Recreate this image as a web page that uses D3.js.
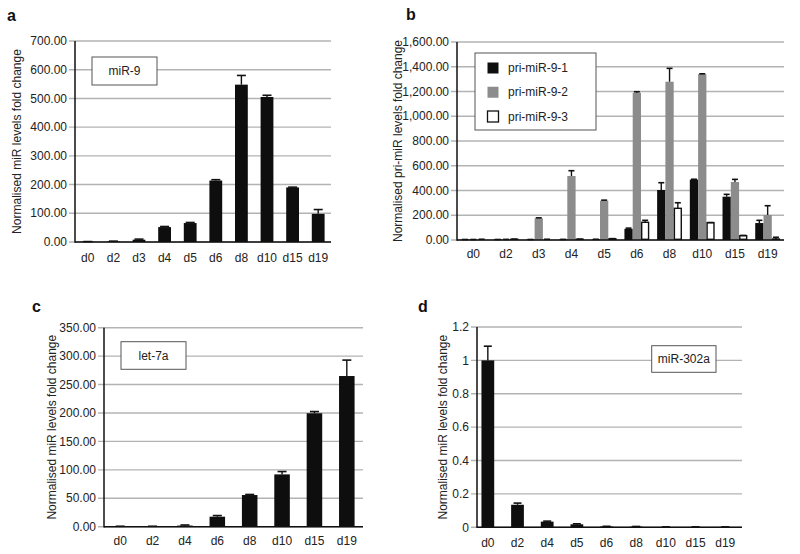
<!DOCTYPE html>
<html>
<head>
<meta charset="utf-8">
<script src="https://cdn.jsdelivr.net/npm/d3@7"></script>
<style>
  html, body { margin: 0; padding: 0; background: #fff; }
  svg { display: block; font-family: "Liberation Sans", Arial, sans-serif; }
</style>
</head>
<body>
<svg id="chart" width="800" height="554"></svg>
<script>
// ---------------- DATA ----------------
const daysA = ["d0", "d2", "d3", "d4", "d5", "d6", "d8", "d10", "d15", "d19"];
const mir9 = [1, 2, 8, 52, 66, 214, 548, 505, 190, 98];
const mir9Err = [0.5, 1, 2, 2, 2, 3, 32, 6, 1, 15];
const ticksA = [0, 100, 200, 300, 400, 500, 600, 700];

const daysB = ["d0", "d2", "d3", "d4", "d5", "d6", "d8", "d10", "d15", "d19"];
const seriesB = ["pri-miR-9-1", "pri-miR-9-2", "pri-miR-9-3"];
const pri1 = [3, 3, 3, 4, 5, 90, 404, 488, 350, 137];
const pri1Err = [1, 1, 1, 1, 1, 6, 59, 3, 19, 22];
const pri2 = [3, 4, 175, 517, 318, 1190, 1279, 1340, 469, 202];
const pri2Err = [1, 1, 4, 43, 4, 8, 108, 3, 21, 75];
const pri3 = [5, 6, 5, 6, 10, 143, 256, 140, 35, 8];
const pri3Err = [1, 1, 1, 1, 1, 16, 45, 1, 2, 14];
const ticksB = [0, 200, 400, 600, 800, 1000, 1200, 1400, 1600];

const daysC = ["d0", "d2", "d4", "d6", "d8", "d10", "d15", "d19"];
const let7a = [0.5, 0.5, 2, 17.6, 55.7, 92, 199.5, 265];
const let7aErr = [0.3, 0.3, 1, 2, 1, 5, 3, 28];
const ticksC = [0, 50, 100, 150, 200, 250, 300, 350];

const daysD = ["d0", "d2", "d4", "d5", "d6", "d8", "d10", "d15", "d19"];
const mir302a = [1.0, 0.135, 0.034, 0.018, 0.005, 0.004, 0.002, 0.002, 0.002];
const mir302aErr = [0.085, 0.01, 0.003, 0.003, 0.001, 0.001, 0.0005, 0.0005, 0.0005];
const ticksD = [0, 0.2, 0.4, 0.6, 0.8, 1, 1.2];
const tickLabelsD = ["0", "0.2", "0.4", "0.6", "0.8", "1", "1.2"];

// ---------------- STYLE ----------------
const BLACK = "#0e0e0e";
const GRAY = "#8c8c8c";
const GRID = "#b3b3b3";
const fmt2 = d3.format(",.2f");

const svg = d3.select("#chart");

function panel(opts) {
  const g = svg.append("g");
  const x = d3.scaleBand().domain(opts.cats)
    .range([opts.left, opts.right])
    .paddingInner(opts.padIn).paddingOuter(opts.padOut).align(opts.align ?? 0.5);
  const y = d3.scaleLinear().domain([0, opts.max]).range([opts.bottom, opts.top]);

  // gridlines + ticks
  g.append("g").selectAll("line").data(opts.ticks).join("line")
    .attr("x1", opts.left - 6).attr("x2", opts.right)
    .attr("y1", d => y(d)).attr("y2", d => y(d))
    .attr("stroke", GRID).attr("stroke-width", 1.4);

  // y tick labels
  g.append("g").selectAll("text").data(opts.ticks).join("text")
    .attr("x", opts.left - 8).attr("y", d => y(d))
    .attr("dy", "0.35em").attr("text-anchor", "end")
    .attr("font-size", 12).attr("fill", "#222")
    .text((d, i) => opts.tickFmt(d, i));

  // annotation box / legend (drawn under bars)
  if (opts.box) {
    const b = opts.box;
    g.append("rect").attr("x", b.x).attr("y", b.y).attr("width", b.w).attr("height", b.h)
      .attr("fill", "#fff").attr("stroke", "#555").attr("stroke-width", 1);
    if (b.text) {
      g.append("text").attr("x", b.x + b.w / 2).attr("y", b.y + b.h / 2)
        .attr("dy", "0.35em").attr("text-anchor", "middle")
        .attr("font-size", 12).attr("fill", "#222").text(b.text);
    }
  }

  opts.draw(g, x, y);

  // axes lines
  g.append("line").attr("x1", opts.left).attr("x2", opts.left)
    .attr("y1", opts.top).attr("y2", opts.bottom + 0.7)
    .attr("stroke", "#111").attr("stroke-width", 1.5);
  g.append("line").attr("x1", opts.left).attr("x2", opts.right)
    .attr("y1", opts.bottom).attr("y2", opts.bottom)
    .attr("stroke", "#111").attr("stroke-width", 1.5);

  // x labels
  g.append("g").selectAll("text").data(opts.cats).join("text")
    .attr("x", d => x(d) + x.bandwidth() / 2).attr("y", opts.bottom + opts.xLabelOff)
    .attr("text-anchor", "middle").attr("font-size", 12).attr("fill", "#222")
    .text(d => d);

  // y title
  const cy = (opts.top + opts.bottom) / 2;
  g.append("text")
    .attr("transform", `translate(${opts.titleX},${cy}) rotate(-90)`)
    .attr("text-anchor", "middle").attr("dominant-baseline", "central")
    .attr("font-size", 12).attr("fill", "#222").text(opts.title);

  // panel letter
  g.append("text").attr("x", opts.letterX).attr("y", opts.letterY)
    .attr("font-size", 16).attr("font-weight", "bold").attr("fill", "#111")
    .text(opts.letter);
}

function errorBars(g, xs, ys, vals, errs, capW) {
  const data = vals.map((v, i) => ({ v, e: errs[i], i }));
  g.append("g").selectAll("line").data(data).join("line")
    .attr("x1", d => xs(d.i)).attr("x2", d => xs(d.i))
    .attr("y1", d => ys(d.v)).attr("y2", d => ys(d.v + d.e))
    .attr("stroke", "#111").attr("stroke-width", 1.4);
  g.append("g").selectAll("line").data(data).join("line")
    .attr("x1", d => xs(d.i) - capW / 2).attr("x2", d => xs(d.i) + capW / 2)
    .attr("y1", d => ys(d.v + d.e)).attr("y2", d => ys(d.v + d.e))
    .attr("stroke", "#111").attr("stroke-width", 1.6);
}

function simpleBars(cats, vals, errs, capW) {
  return (g, x, y) => {
    const bw = x.bandwidth();
    g.append("g").selectAll("rect").data(vals).join("rect")
      .attr("x", (d, i) => x(cats[i])).attr("width", bw)
      .attr("y", d => y(d)).attr("height", d => y(0) - y(d))
      .attr("fill", BLACK);
    errorBars(g, i => x(cats[i]) + bw / 2, y, vals, errs, capW);
  };
}

// ---------------- PANEL a ----------------
panel({
  cats: daysA, max: 700, ticks: ticksA, tickFmt: d => fmt2(d),
  left: 75, right: 331, top: 41, bottom: 242,
  padIn: 0.5, padOut: 0.25, xLabelOff: 20,
  title: "Normalised miR levels fold change", titleX: 17,
  letter: "a", letterX: 7, letterY: 21,
  box: { x: 92, y: 57, w: 65, h: 28, text: "miR-9" },
  draw: simpleBars(daysA, mir9, mir9Err, 9)
});

// ---------------- PANEL b ----------------
const valsB = [pri1, pri2, pri3];
const errsB = [pri1Err, pri2Err, pri3Err];
const fillsB = [BLACK, GRAY, "#fff"];
panel({
  cats: daysB, max: 1600, ticks: ticksB, tickFmt: d => fmt2(d),
  left: 457, right: 784, top: 42, bottom: 240,
  padIn: 0.24, padOut: 0.12, xLabelOff: 18,
  title: "Normalised pri-miR levels fold change", titleX: 398,
  letter: "b", letterX: 406, letterY: 20,
  box: { x: 475, y: 53, w: 121, h: 77 },
  draw: (g, x, y) => {
    const xs = d3.scaleBand().domain(seriesB).range([0, x.bandwidth()]);
    seriesB.forEach((s, k) => {
      const vals = valsB[k];
      const isWhite = k === 2;
      g.append("g").selectAll("rect").data(vals).join("rect")
        .attr("x", (d, i) => x(daysB[i]) + xs(s) + (isWhite ? 0.7 : 0))
        .attr("width", xs.bandwidth() - (isWhite ? 1.4 : 0))
        .attr("y", d => y(d)).attr("height", d => Math.max(0, y(0) - y(d) - (isWhite ? 0.7 : 0)))
        .attr("fill", fillsB[k])
        .attr("stroke", isWhite ? "#111" : "none").attr("stroke-width", isWhite ? 1.4 : 0);
      errorBars(g, i => x(daysB[i]) + xs(s) + xs.bandwidth() / 2, y, vals, errsB[k], 6);
    });
    // legend entries
    const lg = g.append("g");
    const rows = d3.scalePoint().domain(seriesB).range([68, 116.5]);
    seriesB.forEach((s, k) => {
      lg.append("rect").attr("x", 487.5).attr("y", rows(s) - 5.5).attr("width", 11).attr("height", 11)
        .attr("fill", fillsB[k])
        .attr("stroke", k === 2 ? "#111" : "none").attr("stroke-width", k === 2 ? 1.3 : 0);
      lg.append("text").attr("x", 508).attr("y", rows(s)).attr("dy", "0.35em")
        .attr("font-size", 12).attr("fill", "#222").text(s);
    });
  }
});

// ---------------- PANEL c ----------------
panel({
  cats: daysC, max: 350, ticks: ticksC, tickFmt: d => fmt2(d),
  left: 104, right: 363, top: 327.7, bottom: 526.7,
  padIn: 0.52, padOut: 0.26, xLabelOff: 18,
  title: "Normalised miR levels fold change", titleX: 52,
  letter: "c", letterX: 32, letterY: 312,
  box: { x: 121, y: 341.7, w: 65, h: 27.6, text: "let-7a" },
  draw: simpleBars(daysC, let7a, let7aErr, 9)
});

// ---------------- PANEL d ----------------
panel({
  cats: daysD, max: 1.2, ticks: ticksD, tickFmt: (d, i) => tickLabelsD[i],
  left: 477, right: 742, top: 327, bottom: 527.3,
  padIn: 0.57, padOut: 0.25, align: 0.3, xLabelOff: 20,
  title: "Normalised miR levels fold change", titleX: 443,
  letter: "d", letterX: 418, letterY: 312,
  box: { x: 651.7, y: 345.7, w: 64.3, h: 26.6, text: "miR-302a" },
  draw: simpleBars(daysD, mir302a, mir302aErr, 8)
});
</script>
</body>
</html>
